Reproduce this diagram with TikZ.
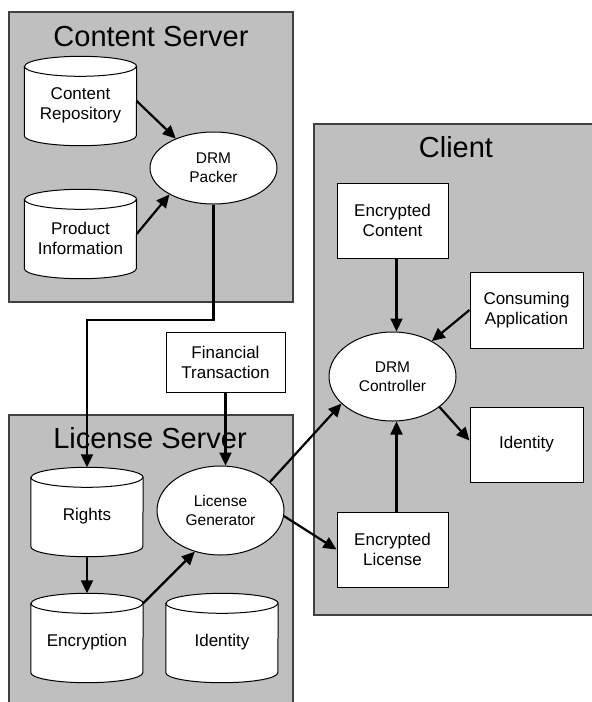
\documentclass[tikz,border=0pt]{standalone}
\usepackage{fontspec}
\setmainfont{Liberation Sans}
\usetikzlibrary{shapes.geometric,arrows.meta,calc}
\definecolor{panelgray}{RGB}{191,191,191}
\definecolor{panelline}{RGB}{64,64,64}

% database cylinder: name, position, label
\newcommand{\dbstore}[3]{%
  \node[cylbody] (#1) at #2 {};
  \draw[fill=white,line width=1pt] ($(#1.north west)+(0,-10)$) -- ($(#1.south west)+(0,10)$)
     arc[start angle=180,end angle=360,x radius=56,y radius=10]
     -- ($(#1.north east)+(0,-10)$)
     arc[start angle=0,end angle=180,x radius=56,y radius=10] -- cycle;
  \draw[line width=1pt] ($(#1.north west)+(0,-10)$)
     arc[start angle=180,end angle=360,x radius=56,y radius=10];
  \node[cyltext] at ([yshift=-4pt]#1.center) {#3};
}

\begin{document}
\begin{tikzpicture}[x=1pt,y=1pt,
  panel/.style={fill=panelgray,draw=panelline,line width=1.3pt},
  paneltitle/.style={font=\fontsize{29}{34}\selectfont,anchor=base,inner sep=0},
  procbox/.style={draw=black,fill=white,line width=1pt,inner sep=0,align=center,
    font=\fontsize{17}{20}\selectfont},
  proc/.style={ellipse,draw=black,fill=white,line width=1pt,inner sep=0,
    minimum width=127pt,align=center,font=\fontsize{15.5}{19}\selectfont},
  cylbody/.style={rectangle,inner sep=0,minimum width=112pt,minimum height=89pt},
  cyltext/.style={align=center,inner sep=0,font=\fontsize{17}{20}\selectfont},
  flow/.style={line width=2.2pt,-{Triangle[length=13pt,width=12pt]}},
]
\clip (0,0) rectangle (592,-702);

% server and client panels
\draw[panel] (9,-12) rectangle (293,-302);
\draw[panel] (9,-415) rectangle (293,-720);
\draw[panel] (314,-124) rectangle (610,-615);

\node[paneltitle] (csTitle) at (151,-46) {Content Server};
\node[paneltitle] (lsTitle) at (150,-448) {License Server};
\node[paneltitle] (clTitle) at (456,-157) {Client};

% content server
\dbstore{repo}{(80.5,-101)}{Content\\Repository}
\dbstore{prod}{(80.5,-234)}{Product\\Information}
\node[proc,minimum height=72pt] (packer) at (213.5,-168) {DRM\\Packer};

% license server
\dbstore{rights}{(87,-512)}{Rights}
\dbstore{encr}{(87,-638)}{Encryption}
\dbstore{lsid}{(222,-638)}{Identity}
\node[proc,minimum height=89pt] (licgen) at (220.5,-510.5) {License\\Generator};

\node[procbox,minimum width=119pt,minimum height=60pt] (fin) at (225.5,-362) {Financial\\Transaction};

% client
\node[procbox,minimum width=111pt,minimum height=75pt] (enccont) at (392.5,-220.5) {Encrypted\\Content};
\node[procbox,minimum width=113pt,minimum height=76pt] (consume) at (526.5,-310) {Consuming\\Application};
\node[proc,minimum height=89pt] (ctrl) at (392.5,-376.5) {DRM\\Controller};
\node[procbox,minimum width=113pt,minimum height=75pt] (clid) at (526.5,-444.5) {Identity};
\node[procbox,minimum width=111pt,minimum height=75pt] (enclic) at (392.5,-549.5) {Encrypted\\License};

\coordinate (bend) at (87,-320);

% connectors
\draw[flow] (repo.east) -- (packer.142);
\draw[flow] (prod.east) -- (packer.211);
\draw[flow] (packer.south) |- (bend) -- (rights.north);
\draw[flow] (fin.south) -- (fin.south |- licgen.north);
\draw[flow] (rights.south) -- (encr.north);
\draw[flow] ($(encr.north east)+(0,-10)$) -- (licgen.238);
\draw[flow] (licgen.30) -- (ctrl.208);
\draw[flow] (licgen.355) -- (enclic.west);
\draw[flow] ([xshift=4pt]enccont.south) -- ([xshift=4pt]enccont.south |- ctrl.north);
\draw[flow] (consume.west) -- (ctrl.42);
\draw[flow] (ctrl.327) -- ([yshift=4pt]clid.west);
\draw[flow] ([xshift=4pt]enclic.north) -- ([xshift=4pt]enclic.north |- ctrl.south);
\end{tikzpicture}
\end{document}
